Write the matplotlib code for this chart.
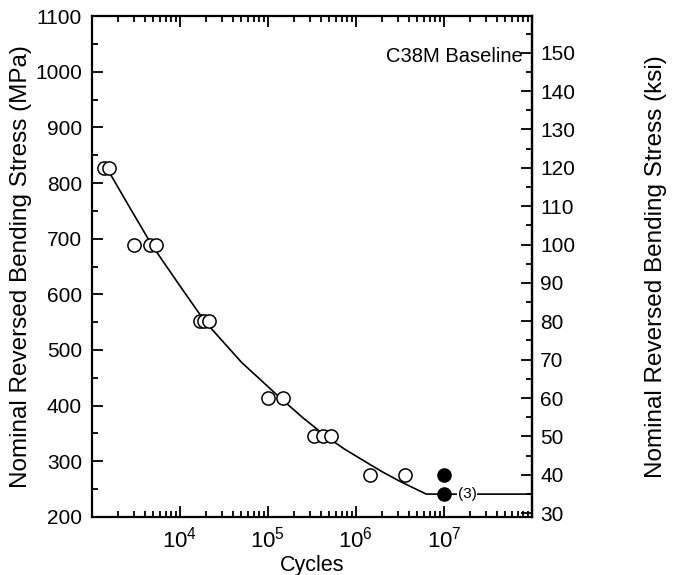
import matplotlib
matplotlib.use("Agg")
import matplotlib.pyplot as plt
from matplotlib.ticker import FixedLocator, FixedFormatter, MultipleLocator, LogLocator, NullFormatter

plt.rcParams['font.family'] = ['Liberation Sans', 'DejaVu Sans']
plt.rcParams['mathtext.fontset'] = 'custom'
plt.rcParams['mathtext.rm'] = 'Liberation Sans'
plt.rcParams['mathtext.it'] = 'Liberation Sans'

MPA_PER_KSI = 6.895

# Failed specimens: cycles to failure and nominal stress (MPa)
fail_cycles = [1370, 1560, 3000, 4560, 5340, 16900, 18700, 21400,
               100000, 148000, 331000, 422000, 520000, 1450000, 3600000]
fail_mpa = [827, 827, 689, 689, 689, 552, 552, 552,
            414, 414, 345, 345, 345, 276, 276]

# Run-outs at 10^7 cycles
runout_cycles = [1e7, 1e7]
runout_mpa = [276, 241]
runout_note = "(3)"

# Fitted S-N curve with endurance limit plateau
curve_cycles = [1480, 2630, 4790, 9550, 19100, 50100, 138000, 251000,
                457000, 741000, 1200000, 1950000, 3160000, 6310000, 1e8]
curve_mpa = [827, 759, 689, 620, 552, 478, 414, 378,
             345, 322, 302, 282, 264, 241, 241]

x_tick_vals = [1e3, 1e4, 1e5, 1e6, 1e7, 1e8]
x_tick_labels = ["", r"$10^{4}$", r"$10^{5}$", r"$10^{6}$", r"$10^{7}$", ""]

fig = plt.figure(figsize=(6.75, 5.75), dpi=100)
ax = fig.add_axes([0.136, 0.101, 0.652, 0.871])

ax.plot(curve_cycles, curve_mpa, color='black', lw=1.2, zorder=2)
ax.plot(fail_cycles, fail_mpa, linestyle='none', marker='o', ms=9.5,
        mfc='white', mec='black', mew=1.1, zorder=3)
ax.plot(runout_cycles, runout_mpa, linestyle='none', marker='o', ms=9.5,
        mfc='black', mec='black', zorder=3)
ax.annotate(runout_note, xy=(runout_cycles[1], runout_mpa[1]),
            xytext=(10, 0), textcoords='offset points', va='center', ha='left',
            fontsize=11, bbox=dict(boxstyle='square,pad=0.05', fc='white', ec='none'),
            zorder=4)

ax.text(0.98, 0.92, "C38M Baseline", transform=ax.transAxes, ha='right',
        va='center', fontsize=14.5)

ax.set_xscale('log')
ax.set_xlim(1e3, 1e8)
ax.set_ylim(200, 1100)

ax.xaxis.set_major_locator(FixedLocator(x_tick_vals))
ax.xaxis.set_major_formatter(FixedFormatter(x_tick_labels))
ax.xaxis.set_minor_locator(LogLocator(base=10, subs=range(2, 10), numticks=20))
ax.xaxis.set_minor_formatter(NullFormatter())
ax.yaxis.set_major_locator(MultipleLocator(100))
ax.yaxis.set_minor_locator(MultipleLocator(50))

ax.tick_params(which='both', direction='in', top=True, right=False, width=1.3)
ax.tick_params(which='major', length=8, labelsize=15, pad=7)
ax.tick_params(which='minor', length=4)
ax.tick_params(axis='x', which='major', pad=7, labelsize=16)

for s in ax.spines.values():
    s.set_linewidth(1.6)

ax.set_xlabel("Cycles", fontsize=15.5, labelpad=2)
ax.set_ylabel("Nominal Reversed Bending Stress (MPa)", fontsize=17.5, labelpad=2)

sec = ax.secondary_yaxis('right', functions=(lambda m: m / MPA_PER_KSI,
                                              lambda k: k * MPA_PER_KSI))
sec.yaxis.set_major_locator(MultipleLocator(10))
sec.yaxis.set_minor_locator(MultipleLocator(5))
sec.tick_params(which='both', direction='in', width=1.3)
sec.tick_params(which='major', length=8, labelsize=15, pad=6)
sec.tick_params(which='minor', length=4)
sec.spines['right'].set_linewidth(1.6)
sec.set_ylabel("Nominal Reversed Bending Stress (ksi)", fontsize=17.5, labelpad=50)

fig.savefig("out.png", dpi=100)
